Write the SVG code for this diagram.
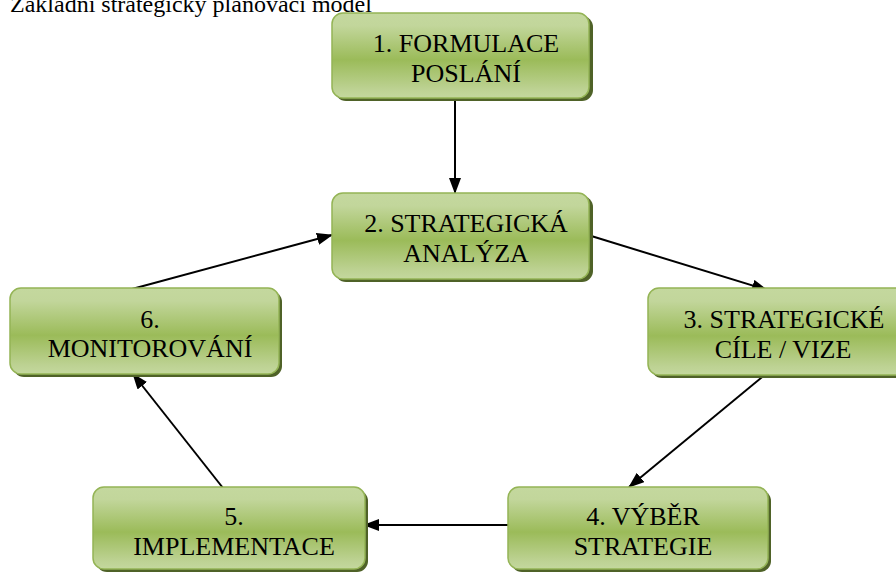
<svg xmlns="http://www.w3.org/2000/svg" width="896" height="572" viewBox="0 0 896 572">
<defs>
<linearGradient id="g" x1="0" y1="0" x2="0" y2="1">
<stop offset="0" stop-color="#c4d89e"/>
<stop offset="0.15" stop-color="#c2d69b"/>
<stop offset="0.55" stop-color="#9bbb59"/>
<stop offset="0.9" stop-color="#bdd293"/>
<stop offset="1" stop-color="#c4d89e"/>
</linearGradient>
<marker id="ah" markerWidth="16" markerHeight="12" refX="15" refY="6" orient="auto" markerUnits="userSpaceOnUse">
<path d="M0,0 L16,6 L0,12 z" fill="#000"/>
</marker>
</defs>
<style>
.box{fill:url(#g);stroke:#94b455;stroke-width:1.5}
.sh{fill:#4f6228}
.c{stroke:#000;stroke-width:2;fill:none;marker-end:url(#ah)}
text{font-family:'Liberation Serif','Times New Roman','DejaVu Serif',serif}
</style>
<rect width="896" height="572" fill="#fff"/>
<text x="10" y="12" font-size="24" fill="#000">Základní strategický plánovací model</text>
<g id="connectors">
<line class="c" x1="455" y1="99" x2="455" y2="193"/>
<line class="c" x1="132" y1="289" x2="332" y2="235"/>
<line class="c" x1="588" y1="235" x2="767" y2="290"/>
<line class="c" x1="767" y1="373" x2="629" y2="487"/>
<line class="c" x1="512" y1="525" x2="364" y2="525"/>
<line class="c" x1="223" y1="488" x2="133" y2="374"/>
</g>
<g font-size="26" fill="#000" text-anchor="middle">
<g id="n1">
<rect class="sh" x="335" y="16" width="258" height="85" rx="11"/>
<rect class="box" x="332" y="13" width="257" height="85" rx="11"/>
<text x="466" y="52">1. FORMULACE</text>
<text x="466" y="82">POSLÁNÍ</text>
</g>
<g id="n2">
<rect class="sh" x="335" y="196" width="258" height="86" rx="11"/>
<rect class="box" x="332" y="193" width="257" height="86" rx="11"/>
<text x="466" y="232">2. STRATEGICKÁ</text>
<text x="466" y="262">ANALÝZA</text>
</g>
<g id="n3">
<rect class="sh" x="651" y="291" width="258" height="87" rx="11"/>
<rect class="box" x="648" y="288" width="258" height="87" rx="11"/>
<text x="784" y="328">3. STRATEGICKÉ</text>
<text x="783" y="358">CÍLE / VIZE</text>
</g>
<g id="n4">
<rect class="sh" x="511" y="490" width="260" height="82" rx="11"/>
<rect class="box" x="508" y="487" width="260" height="82" rx="11"/>
<text x="643" y="525">4. VÝBĚR</text>
<text x="643" y="555">STRATEGIE</text>
</g>
<g id="n5">
<rect class="sh" x="96" y="490" width="272" height="82" rx="11"/>
<rect class="box" x="93" y="487" width="272" height="82" rx="11"/>
<text x="234" y="525">5.</text>
<text x="234" y="555">IMPLEMENTACE</text>
</g>
<g id="n6">
<rect class="sh" x="13" y="291" width="269" height="86" rx="11"/>
<rect class="box" x="10" y="288" width="269" height="86" rx="11"/>
<text x="150" y="328">6.</text>
<text x="150" y="357">MONITOROVÁNÍ</text>
</g>
</g>
</svg>
